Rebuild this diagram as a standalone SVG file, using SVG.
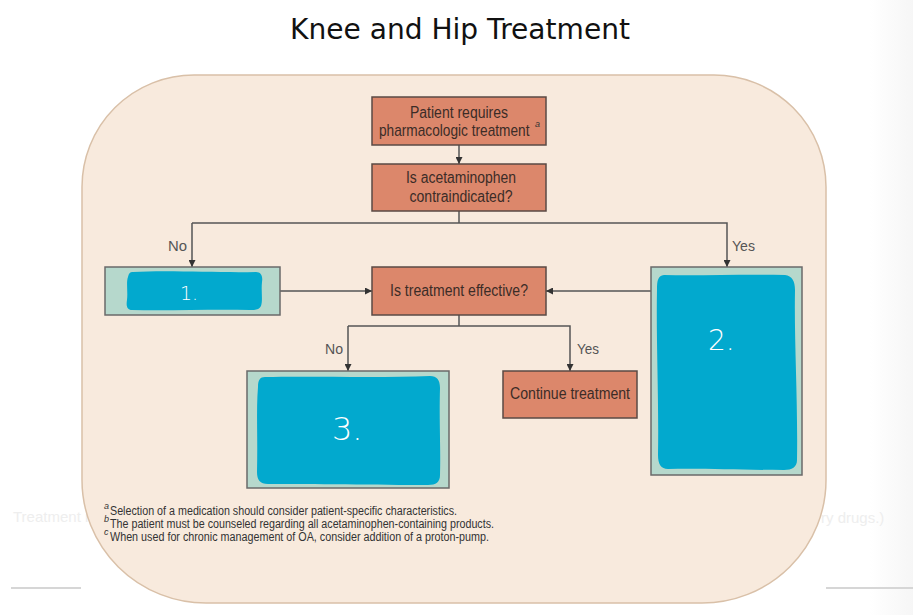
<svg xmlns="http://www.w3.org/2000/svg" width="913" height="615" viewBox="0 0 913 615">
<style>
.box{fill:#DC876B;stroke:#5a4a44;stroke-width:1.5}
.teal{fill:#B6D8CC;stroke:#6a6a6a;stroke-width:1.5}
.blob{fill:#02A9CE}
.t{font-family:"Liberation Sans",Arial,sans-serif;font-size:16px;fill:#3b2c27}
.lbl{font-family:"Liberation Sans",Arial,sans-serif;font-size:15px;fill:#555}
.num{font-family:"DejaVu Sans","Liberation Sans",sans-serif;font-weight:200;fill:#ffffff}
.fn{font-family:"Liberation Sans",Arial,sans-serif;font-size:12px;fill:#333}
.sup{font-family:"Liberation Sans",Arial,sans-serif;font-size:9px;font-style:italic;fill:#333}
.conn{fill:none;stroke:#555;stroke-width:1.5}
.faint{font-family:"Liberation Sans",Arial,sans-serif;font-size:15px;fill:#EEEEEE}
</style>
<defs>
<marker id="arr" viewBox="0 0 10 10" refX="10" refY="5" markerWidth="7" markerHeight="7" orient="auto" markerUnits="userSpaceOnUse">
<path d="M0,0 L10,5 L0,10 z" fill="#333"/>
</marker>
<linearGradient id="edge" x1="0" y1="0" x2="1" y2="0">
<stop offset="0" stop-color="#ffffff"/>
<stop offset="1" stop-color="#f6f6f6"/>
</linearGradient>
</defs>
<rect x="0" y="0" width="913" height="615" fill="#ffffff"/>
<rect x="870" y="0" width="43" height="615" fill="url(#edge)"/>
<text class="faint" x="13" y="522">Treatment r</text>
<text class="faint" x="821" y="523">ry drugs.)</text>
<line x1="11" y1="588" x2="81" y2="588" stroke="#d6d6d6" stroke-width="2"/>
<line x1="826" y1="588" x2="913" y2="588" stroke="#d6d6d6" stroke-width="2"/>
<text x="460" y="39" text-anchor="middle" font-family="DejaVu Sans, Verdana, sans-serif" font-size="28" fill="#111" textLength="340" lengthAdjust="spacingAndGlyphs">Knee and Hip Treatment</text>
<g id="panel">
<path d="M194,75 H714 A112,112 0 0 1 826,187 V480 A124,123 0 0 1 702,603 H206 A124,123 0 0 1 82,480 V187 A112,112 0 0 1 194,75 Z" fill="#F8EADD" stroke="#D9C0A8" stroke-width="1.5"/>
</g>
<g id="connectors">
<line class="conn" x1="459" y1="145" x2="459" y2="164" marker-end="url(#arr)"/>
<polyline class="conn" points="459,211 459,223"/>
<polyline class="conn" points="192,223 727,223 727,267" marker-end="url(#arr)"/>
<line class="conn" x1="192" y1="223" x2="192" y2="267" marker-end="url(#arr)"/>
<line class="conn" x1="280" y1="291" x2="372" y2="291" marker-end="url(#arr)"/>
<line class="conn" x1="651" y1="291" x2="546" y2="291" marker-end="url(#arr)"/>
<polyline class="conn" points="459,315 459,326"/>
<polyline class="conn" points="348,326 570,326 570,371" marker-end="url(#arr)"/>
<line class="conn" x1="348" y1="326" x2="348" y2="371" marker-end="url(#arr)"/>
<text class="lbl" x="168" y="251" textLength="19" lengthAdjust="spacingAndGlyphs">No</text>
<text class="lbl" x="732" y="251" textLength="23" lengthAdjust="spacingAndGlyphs">Yes</text>
<text class="lbl" x="325" y="354" textLength="18" lengthAdjust="spacingAndGlyphs">No</text>
<text class="lbl" x="577" y="354" textLength="22" lengthAdjust="spacingAndGlyphs">Yes</text>
</g>
<g id="n-start">
<rect class="box" x="372" y="97" width="174" height="48"/>
<text class="t" x="459" y="118" text-anchor="middle" textLength="98" lengthAdjust="spacingAndGlyphs">Patient requires</text>
<text class="t" transform="translate(379,136) scale(0.855,1)">pharmacologic treatment</text>
<text class="sup" x="535" y="127" font-size="8">a</text>
</g>
<g id="n-acet">
<rect class="box" x="372" y="164" width="174" height="47"/>
<text class="t" x="461" y="183" text-anchor="middle" textLength="110" lengthAdjust="spacingAndGlyphs">Is acetaminophen</text>
<text class="t" x="461" y="202" text-anchor="middle" textLength="103" lengthAdjust="spacingAndGlyphs">contraindicated?</text>
</g>
<g id="n-1">
<rect class="teal" x="105" y="267" width="175" height="48"/>
<path class="blob" d="M133,272 C170,270 220,273 256,272 C261,272 263,276 262,282 C261,292 263,300 261,306 C259,310 255,310 250,310 C210,309 170,311 132,310 C127,310 126,306 127,300 C128,292 126,282 128,277 C129,273 130,272 133,272 Z"/>
<text class="num" x="180" y="300" font-size="19">1.</text>
</g>
<g id="n-eff">
<rect class="box" x="372" y="267" width="174" height="48"/>
<text class="t" x="459" y="296" text-anchor="middle" textLength="138" lengthAdjust="spacingAndGlyphs">Is treatment effective?</text>
</g>
<g id="n-2">
<rect class="teal" x="651" y="267" width="151" height="208"/>
<path class="blob" d="M664,275 C700,276 740,274 785,275 C792,276 795,281 795,290 C794,340 798,400 797,460 C797,467 792,470 784,470 C740,470 700,468 668,469 C661,469 658,464 658,455 C659,400 656,340 657,290 C657,280 658,276 664,275 Z"/>
<text class="num" x="708" y="350" font-size="28">2.</text>
</g>
<g id="n-3">
<rect class="teal" x="247" y="371" width="202" height="117"/>
<path class="blob" d="M265,377 C310,376 380,378 430,376 C437,376 440,380 440,388 C439,420 441,455 440,475 C440,482 436,485 428,485 C380,485 310,484 268,484 C260,484 257,480 257,472 C258,440 256,410 258,387 C258,380 260,377 265,377 Z"/>
<text class="num" x="332" y="440" font-size="32">3.</text>
</g>
<g id="n-cont">
<rect class="box" x="503" y="371" width="134" height="47"/>
<text class="t" x="570" y="399" text-anchor="middle" textLength="120" lengthAdjust="spacingAndGlyphs">Continue treatment</text>
</g>
<g id="footnotes">
<text class="sup" x="104" y="509">a</text>
<text class="fn" x="110" y="515" textLength="347" lengthAdjust="spacingAndGlyphs">Selection of a medication should consider patient-specific characteristics.</text>
<text class="sup" x="104" y="522">b</text>
<text class="fn" x="110" y="528" textLength="384" lengthAdjust="spacingAndGlyphs">The patient must be counseled regarding all acetaminophen-containing products.</text>
<text class="sup" x="104" y="535">c</text>
<text class="fn" x="110" y="541" textLength="379" lengthAdjust="spacingAndGlyphs">When used for chronic management of OA, consider addition of a proton-pump.</text>
</g>
</svg>
